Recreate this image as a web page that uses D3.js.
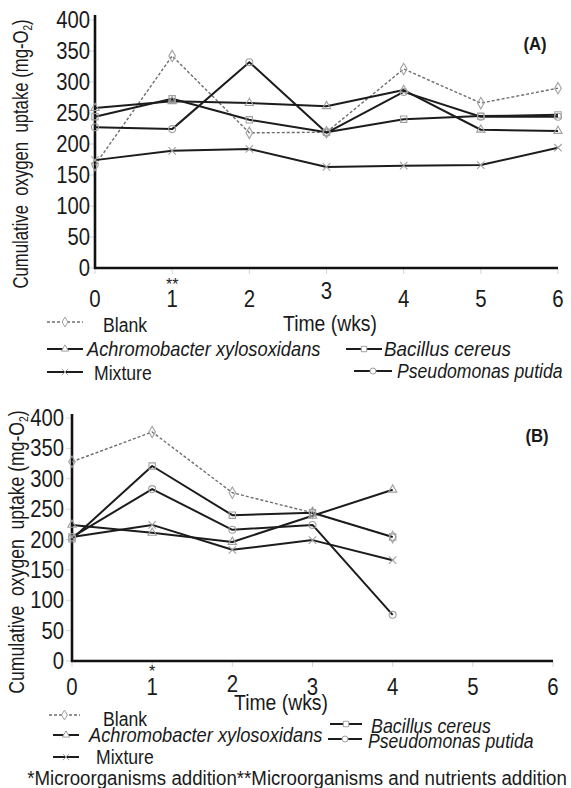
<!DOCTYPE html>
<html>
<head>
<meta charset="utf-8">
<script src="https://cdn.jsdelivr.net/npm/d3@7"></script>
<style>
  body { margin: 0; background: #fff; }
  text { font-family: "Liberation Sans", Arial, sans-serif; fill: #1a1a1a; }
</style>
</head>
<body>
<div id="chart"></div>
<script>
// ---- data ----
const weeksA = [0, 1, 2, 3, 4, 5, 6];
const weeksB = [0, 1, 2, 3, 4];
const xTicks = [0, 1, 2, 3, 4, 5, 6];
const yTicks = [0, 50, 100, 150, 200, 250, 300, 350, 400];

// panel A - cumulative O2 uptake (mg-O2)
const blankA  = [166, 342, 218, 219, 321, 266, 290];
const achroA  = [258, 269, 266, 261, 287, 223, 221];
const bacilA  = [244, 273, 239, 219, 240, 245, 247];
const mixA    = [174, 189, 192, 163, 165, 166, 194];
const pseudoA = [227, 224, 332, 218, 284, 244, 244];

// panel B
const blankB  = [328, 377, 277, 244, 204];
const achroB  = [224, 211, 196, 239, 282];
const bacilB  = [201, 321, 240, 244, 204];
const mixB    = [204, 224, 183, 199, 166];
const pseudoB = [204, 283, 216, 224, 76];

const names = ["Blank", "Achromobacter xylosoxidans", "Bacillus cereus", "Mixture", "Pseudomonas putida"];

const width = 571, height = 788;
const svg = d3.select("#chart").append("svg")
    .attr("width", width)
    .attr("height", height);

const NARROW = 0.86;

// text in a narrow face: Liberation Sans squeezed horizontally
function label(g, x, y, str, size, opts) {
    opts = opts || {};
    const t = g.append("text")
        .attr("transform", `translate(${x},${y}) rotate(${opts.rot || 0}) scale(${opts.sx || NARROW},1)`)
        .attr("font-size", size)
        .attr("text-anchor", opts.anchor || "start")
        .attr("font-style", opts.italic ? "italic" : null)
        .attr("font-weight", opts.bold ? "bold" : null);
    t.text(str);
    return t;
}

const symType = {
    diamond: d3.symbolDiamond,
    triangle: d3.symbolTriangle,
    square: d3.symbolSquare,
    x: d3.symbolTimes || d3.symbolX,
    circle: d3.symbolCircle
};
const symSize = { diamond: 38, triangle: 30, square: 40, x: 38, circle: 38 };

function styleFor(i) {
    // 0 blank dashed grey, rest solid black
    return i === 0
        ? { stroke: "#6e6e6e", width: 1.4, dash: "3,2" }
        : { stroke: "#1c1c1c", width: 2, dash: null };
}
const markers = ["diamond", "triangle", "square", "x", "circle"];

function drawPanel(cfg) {
    const g = svg.append("g");
    const x = d3.scaleLinear().domain([0, 6]).range([cfg.x0, cfg.x1]);
    const y = d3.scaleLinear().domain([0, 400]).range([cfg.y0, cfg.y1]);

    // light grey tick marks
    g.selectAll(".yt").data(yTicks).enter().append("line")
        .attr("x1", cfg.x0 - 6).attr("x2", cfg.x0)
        .attr("y1", d => y(d)).attr("y2", d => y(d))
        .attr("stroke", "#d6d6d6").attr("stroke-width", 1);
    g.selectAll(".xt").data(xTicks).enter().append("line")
        .attr("x1", d => x(d)).attr("x2", d => x(d))
        .attr("y1", cfg.y0).attr("y2", cfg.y0 + 6)
        .attr("stroke", "#d6d6d6").attr("stroke-width", 1);

    // axes
    g.append("line").attr("x1", cfg.x0).attr("x2", cfg.x0)
        .attr("y1", cfg.y0 + 1).attr("y2", cfg.axisTop)
        .attr("stroke", "#111").attr("stroke-width", 2.6);
    g.append("line").attr("x1", cfg.x0 - 1).attr("x2", cfg.x1)
        .attr("y1", cfg.y0).attr("y2", cfg.y0)
        .attr("stroke", "#111").attr("stroke-width", 2.6);

    // tick labels
    yTicks.forEach(v => label(g, cfg.x0 - cfg.yLabGap, y(v) + 8, String(v), 23, { anchor: "end", sx: 0.88 }));
    xTicks.forEach(v => label(g, x(v), cfg.xLabY + (cfg.raise[v] || 0), String(v), 24, { anchor: "middle", sx: 0.85 }));

    // axis titles (double spaces kept as no-break spaces)
    const yl = g.append("text")
        .attr("transform", `translate(${cfg.yTitleX},${cfg.yTitleY}) rotate(-90) scale(${cfg.yTitleSx},1)`)
        .attr("font-size", 22)
        .attr("text-anchor", "middle");
    yl.append("tspan").text(cfg.yTitle);
    yl.append("tspan").text("2").attr("font-size", 13).attr("dy", 4);
    yl.append("tspan").text(")").attr("dy", -4);
    label(g, cfg.timeX, cfg.timeY, "Time (wks)", 22, { anchor: "middle", sx: 0.88 });

    label(g, cfg.tagX, cfg.tagY, cfg.tag, 19, { anchor: "middle", bold: true, sx: 0.88 });
    label(g, x(1), cfg.starY, cfg.star, 16, { anchor: "middle", sx: 1 });

    // series
    cfg.series.forEach((vals, i) => {
        const st = styleFor(i);
        const pts = vals.map((v, k) => [x(cfg.weeks[k]), y(v)]);
        g.append("path")
            .attr("d", d3.line()(pts))
            .attr("fill", "none")
            .attr("stroke", st.stroke)
            .attr("stroke-width", st.width)
            .attr("stroke-dasharray", st.dash)
            .attr("stroke-linejoin", "round");
    });
    cfg.series.forEach((vals, i) => {
        g.selectAll(null).data(vals).enter().append("path")
            .attr("transform", (d, k) => `translate(${x(cfg.weeks[k])},${y(d)})`)
            .attr("d", d3.symbol().type(symType[markers[i]]).size(symSize[markers[i]]))
            .attr("fill", "none")
            .attr("stroke", "#a0a0a0")
            .attr("stroke-width", 1.1);
    });

    // legend
    cfg.legend.forEach(it => {
        const st = styleFor(it.i);
        g.append("line")
            .attr("x1", it.lx).attr("x2", it.lx + it.len)
            .attr("y1", it.ly).attr("y2", it.ly)
            .attr("stroke", st.stroke)
            .attr("stroke-width", st.width)
            .attr("stroke-dasharray", st.dash);
        g.append("path")
            .attr("transform", `translate(${it.lx + it.len / 2},${it.ly})`)
            .attr("d", d3.symbol().type(symType[markers[it.i]]).size(symSize[markers[it.i]] * 0.75))
            .attr("fill", "#fff")
            .attr("stroke", "#a0a0a0")
            .attr("stroke-width", 1);
        label(g, it.tx, it.ty, names[it.i], 21, { italic: it.i !== 0 && it.i !== 3, sx: it.sx });
    });
}

const yTitleText = "Cumulative\u00a0\u00a0oxygen\u00a0\u00a0uptake (mg-O";

drawPanel({
    x0: 95, x1: 558, y0: 268, y1: 20, axisTop: 15,
    weeks: weeksA,
    series: [blankA, achroA, bacilA, mixA, pseudoA],
    yLabGap: 5, xLabY: 307, raise: { 3: -8 },
    yTitle: yTitleText, yTitleX: 28, yTitleY: 154, yTitleSx: 0.76,
    timeX: 330, timeY: 331,
    tag: "(A)", tagX: 535, tagY: 50,
    star: "**", starY: 290,
    legend: [
        { i: 0, lx: 47, ly: 322, len: 36, tx: 103, ty: 332, sx: 0.84 },
        { i: 1, lx: 47, ly: 349, len: 36, tx: 87, ty: 356, sx: 0.87 },
        { i: 2, lx: 346, ly: 349, len: 36, tx: 384, ty: 356, sx: 0.9 },
        { i: 3, lx: 47, ly: 372, len: 36, tx: 94, ty: 380, sx: 0.84 },
        { i: 4, lx: 354, ly: 371, len: 38, tx: 397, ty: 378, sx: 0.84 }
    ]
});

drawPanel({
    x0: 72, x1: 553, y0: 661, y1: 418, axisTop: 414,
    weeks: weeksB,
    series: [blankB, achroB, bacilB, mixB, pseudoB],
    yLabGap: 8, xLabY: 695, raise: { 2: -3 },
    yTitle: yTitleText, yTitleX: 24, yTitleY: 552, yTitleSx: 0.8,
    timeX: 281, timeY: 710,
    tag: "(B)", tagX: 537, tagY: 442,
    star: "*", starY: 677,
    legend: [
        { i: 0, lx: 49, ly: 715, len: 31, tx: 103, ty: 726, sx: 0.84 },
        { i: 2, lx: 330, ly: 724, len: 32, tx: 371, ty: 733, sx: 0.85 },
        { i: 1, lx: 53, ly: 735, len: 26, tx: 89, ty: 742, sx: 0.87 },
        { i: 4, lx: 328, ly: 739, len: 34, tx: 368, ty: 748, sx: 0.84 },
        { i: 3, lx: 53, ly: 757, len: 26, tx: 96, ty: 764, sx: 0.84 }
    ]
});

// footnote
label(svg, 297, 785, "*Microorganisms addition**Microorganisms and nutrients addition", 21, { anchor: "middle", sx: 0.89 });
</script>
</body>
</html>
